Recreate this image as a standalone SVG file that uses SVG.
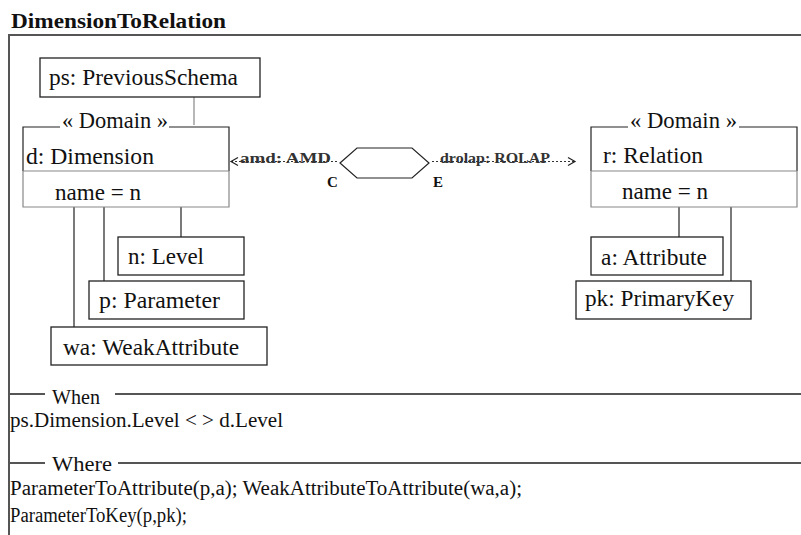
<svg xmlns="http://www.w3.org/2000/svg" width="801" height="535" viewBox="0 0 801 535">
<style>
text{font-family:"Liberation Serif","Times New Roman",serif;fill:#111}
.lbl{font-size:23px}
.cond{font-size:20px}
.box{fill:#fff;stroke:#222;stroke-width:1.3}
.frame{stroke:#555;stroke-width:2;fill:none}
.ln{stroke:#222;stroke-width:1.2;fill:none}
.lg{stroke:#888;stroke-width:1.2;fill:none}
.dash{stroke:#333;stroke-width:1;stroke-dasharray:2,2;fill:none}
.arr{font-size:15px;font-weight:bold;fill:#333}
.ce{font-size:15px;font-weight:bold}
</style>
<rect width="801" height="535" fill="#fff"/>
<g id="frame">
<text x="11" y="28" font-size="22" font-weight="bold" textLength="215" lengthAdjust="spacingAndGlyphs">DimensionToRelation</text>
<path class="frame" d="M9,535 V35 H801"/>
<path class="frame" d="M9,394 H45 M115,394 H801 M9,463 H45 M118,463 H801" stroke-width="1.6"/>
<text class="cond" x="52" y="404" textLength="48" lengthAdjust="spacingAndGlyphs">When</text>
<text class="cond" x="10" y="427" textLength="273" lengthAdjust="spacingAndGlyphs">ps.Dimension.Level &lt; &gt; d.Level</text>
<text class="cond" x="52" y="471" textLength="60" lengthAdjust="spacingAndGlyphs">Where</text>
<text class="cond" x="10" y="495" textLength="512" lengthAdjust="spacingAndGlyphs">ParameterToAttribute(p,a);  WeakAttributeToAttribute(wa,a);</text>
<text class="cond" x="10" y="522" textLength="177" lengthAdjust="spacingAndGlyphs">ParameterToKey(p,pk);</text>
</g>
<g id="connectors">
<path class="lg" d="M194,97 V125"/>
<path class="ln" d="M74,207 V327 M104,207 V281 M181,207 V237"/>
<path class="ln" d="M679,207 V237 M731,207 V281"/>
<path class="dash" d="M337,161.5 H232"/>
<path class="ln" d="M238,157.5 L231,161.5 L238,165.5" stroke-width="1"/>
<path class="dash" d="M432,161.5 H574"/>
<path class="ln" d="M568,157.5 L575,161.5 L568,165.5" stroke-width="1"/>
<text class="arr" x="240" y="163" textLength="91" lengthAdjust="spacingAndGlyphs">amd: AMD</text>
<text class="arr" x="440" y="163" textLength="110" lengthAdjust="spacingAndGlyphs">drolap: ROLAP</text>
</g>
<g id="relation-hex">
<polygon points="340,163 357,148 412,148 429,163 412,178 357,178" fill="#fff" stroke="#222" stroke-width="1.2"/>
<text class="ce" x="327" y="187">C</text>
<text class="ce" x="433" y="187">E</text>
</g>
<g id="ps">
<rect class="box" x="40" y="58" width="220" height="39"/>
<text class="lbl" x="49" y="85" textLength="189" lengthAdjust="spacingAndGlyphs">ps: PreviousSchema</text>
</g>
<g id="d">
<rect x="23" y="127" width="206" height="80" fill="#fff" stroke="none"/>
<path class="ln" d="M60,127 H23 V171 M169,127 H229 V171"/>
<path class="lg" d="M23,171 H229 M23,171 V207 H229 V171"/>
<text class="lbl" x="62" y="128" textLength="106" lengthAdjust="spacingAndGlyphs">« Domain »</text>
<text class="lbl" x="26" y="164" textLength="128" lengthAdjust="spacingAndGlyphs">d: Dimension</text>
<text class="lbl" x="55" y="200" textLength="86" lengthAdjust="spacingAndGlyphs">name = n</text>
</g>
<g id="n">
<rect class="box" x="118" y="237" width="126" height="38"/>
<text class="lbl" x="128" y="264" textLength="76" lengthAdjust="spacingAndGlyphs">n: Level</text>
</g>
<g id="p">
<rect class="box" x="89" y="281" width="155" height="38"/>
<text class="lbl" x="99" y="308" textLength="121" lengthAdjust="spacingAndGlyphs">p: Parameter</text>
</g>
<g id="wa">
<rect class="box" x="51" y="327" width="216" height="38"/>
<text class="lbl" x="63" y="355" textLength="176" lengthAdjust="spacingAndGlyphs">wa: WeakAttribute</text>
</g>
<g id="r">
<rect x="591" y="127" width="206" height="80" fill="#fff" stroke="none"/>
<path class="ln" d="M628,127 H591 V171 M739,127 H797 V171"/>
<path class="lg" d="M591,171 H797 M591,171 V207 H797 V171"/>
<text class="lbl" x="630" y="128" textLength="107" lengthAdjust="spacingAndGlyphs">« Domain »</text>
<text class="lbl" x="603" y="163" textLength="100" lengthAdjust="spacingAndGlyphs">r: Relation</text>
<text class="lbl" x="622" y="199" textLength="86" lengthAdjust="spacingAndGlyphs">name = n</text>
</g>
<g id="a">
<rect class="box" x="591" y="237" width="132" height="38"/>
<text class="lbl" x="601" y="265" textLength="106" lengthAdjust="spacingAndGlyphs">a: Attribute</text>
</g>
<g id="pk">
<rect class="box" x="576" y="281" width="175" height="38"/>
<text class="lbl" x="585" y="306" textLength="149" lengthAdjust="spacingAndGlyphs">pk: PrimaryKey</text>
</g>
</svg>
